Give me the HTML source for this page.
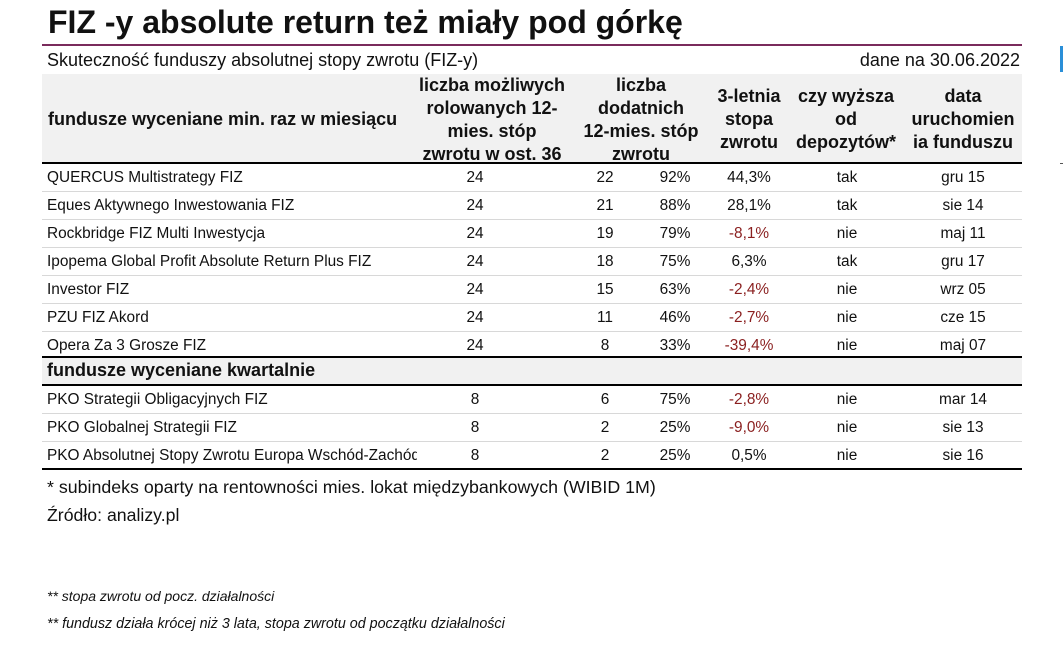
<!DOCTYPE html>
<html><head><meta charset="utf-8"><style>
body{margin:0;width:1063px;height:666px;background:#fff;font-family:"Liberation Sans",sans-serif;color:#111;position:relative;overflow:hidden}
.a{position:absolute;white-space:nowrap}
.title{left:48px;top:4px;font-size:32px;font-weight:bold}
.hr{left:42px;top:44px;width:980px;height:2px;background:#7a2b5c}
.sub{left:47px;top:50px;font-size:18px}
.dane{right:43px;top:50px;font-size:18px}
.head{left:42px;top:74px;width:980px;height:88px;background:#f1f1f1;border-bottom:2px solid #000}
.h{font-size:18px;font-weight:bold;text-align:center;line-height:23px;position:absolute;white-space:nowrap}
.row{position:absolute;left:42px;width:980px;height:27px;border-bottom:1px solid #d8d8d8;font-size:15.4px}
.row span{position:absolute;top:5px;white-space:nowrap}
.c{transform:translateX(-50%)}
.red{color:#8a1f1f}
.sec{background:#f1f1f1;border-bottom:2px solid #000;font-weight:bold;font-size:18px}
</style></head><body>
<div class="a title">FIZ -y absolute return też miały pod górkę</div>
<div class="a hr"></div>
<div class="a sub">Skuteczność funduszy absolutnej stopy zwrotu (FIZ-y)</div>
<div class="a dane">dane na 30.06.2022</div>
<div class="a head"></div>
<div class="h" style="left:48px;top:108px;text-align:left">fundusze wyceniane min. raz w miesiącu</div>
<div class="h" style="left:492px;top:74px;transform:translateX(-50%)">liczba możliwych<br>rolowanych 12-<br>mies. stóp<br>zwrotu w ost. 36</div>
<div class="h" style="left:641px;top:74px;transform:translateX(-50%)">liczba<br>dodatnich<br>12-mies. stóp<br>zwrotu</div>
<div class="h" style="left:749px;top:85px;transform:translateX(-50%)">3-letnia<br>stopa<br>zwrotu</div>
<div class="h" style="left:846px;top:85px;transform:translateX(-50%)">czy wyższa<br>od<br>depozytów*</div>
<div class="h" style="left:963px;top:85px;transform:translateX(-50%)">data<br>uruchomien<br>ia funduszu</div>

<div class="row" style="top:164px"><span style="left:5px">QUERCUS Multistrategy FIZ</span><span class="c" style="left:433px">24</span><span class="c" style="left:563px">22</span><span class="c" style="left:633px">92%</span><span class="c" style="left:707px">44,3%</span><span class="c" style="left:805px">tak</span><span class="c" style="left:921px">gru 15</span></div>
<div class="row" style="top:192px"><span style="left:5px">Eques Aktywnego Inwestowania FIZ</span><span class="c" style="left:433px">24</span><span class="c" style="left:563px">21</span><span class="c" style="left:633px">88%</span><span class="c" style="left:707px">28,1%</span><span class="c" style="left:805px">tak</span><span class="c" style="left:921px">sie 14</span></div>
<div class="row" style="top:220px"><span style="left:5px">Rockbridge FIZ Multi Inwestycja</span><span class="c" style="left:433px">24</span><span class="c" style="left:563px">19</span><span class="c" style="left:633px">79%</span><span class="c red" style="left:707px">-8,1%</span><span class="c" style="left:805px">nie</span><span class="c" style="left:921px">maj 11</span></div>
<div class="row" style="top:248px"><span style="left:5px">Ipopema Global Profit Absolute Return Plus FIZ</span><span class="c" style="left:433px">24</span><span class="c" style="left:563px">18</span><span class="c" style="left:633px">75%</span><span class="c" style="left:707px">6,3%</span><span class="c" style="left:805px">tak</span><span class="c" style="left:921px">gru 17</span></div>
<div class="row" style="top:276px"><span style="left:5px">Investor FIZ</span><span class="c" style="left:433px">24</span><span class="c" style="left:563px">15</span><span class="c" style="left:633px">63%</span><span class="c red" style="left:707px">-2,4%</span><span class="c" style="left:805px">nie</span><span class="c" style="left:921px">wrz 05</span></div>
<div class="row" style="top:304px"><span style="left:5px">PZU FIZ Akord</span><span class="c" style="left:433px">24</span><span class="c" style="left:563px">11</span><span class="c" style="left:633px">46%</span><span class="c red" style="left:707px">-2,7%</span><span class="c" style="left:805px">nie</span><span class="c" style="left:921px">cze 15</span></div>
<div class="row" style="top:332px;height:24px;border-bottom:2px solid #000"><span style="left:5px">Opera Za 3 Grosze FIZ</span><span class="c" style="left:433px">24</span><span class="c" style="left:563px">8</span><span class="c" style="left:633px">33%</span><span class="c red" style="left:707px">-39,4%</span><span class="c" style="left:805px">nie</span><span class="c" style="left:921px">maj 07</span></div>
<div class="row sec" style="top:358px;height:26px"><span style="left:5px;top:2px">fundusze wyceniane kwartalnie</span></div>
<div class="row" style="top:386px"><span style="left:5px">PKO Strategii Obligacyjnych FIZ</span><span class="c" style="left:433px">8</span><span class="c" style="left:563px">6</span><span class="c" style="left:633px">75%</span><span class="c red" style="left:707px">-2,8%</span><span class="c" style="left:805px">nie</span><span class="c" style="left:921px">mar 14</span></div>
<div class="row" style="top:414px"><span style="left:5px">PKO Globalnej Strategii FIZ</span><span class="c" style="left:433px">8</span><span class="c" style="left:563px">2</span><span class="c" style="left:633px">25%</span><span class="c red" style="left:707px">-9,0%</span><span class="c" style="left:805px">nie</span><span class="c" style="left:921px">sie 13</span></div>
<div class="row" style="top:442px;height:26px;border-bottom:2px solid #000"><span style="left:5px;width:370px;overflow:hidden">PKO Absolutnej Stopy Zwrotu Europa Wschód-Zachód</span><span class="c" style="left:433px">8</span><span class="c" style="left:563px">2</span><span class="c" style="left:633px">25%</span><span class="c" style="left:707px">0,5%</span><span class="c" style="left:805px">nie</span><span class="c" style="left:921px">sie 16</span></div>

<div class="a" style="left:47px;top:477px;font-size:17.8px">* subindeks oparty na rentowności mies. lokat międzybankowych (WIBID 1M)</div>
<div class="a" style="left:47px;top:505px;font-size:17.7px">Źródło: analizy.pl</div>
<div class="a" style="left:47px;top:588px;font-size:14px;font-style:italic">** stopa zwrotu od pocz. działalności</div>
<div class="a" style="left:47px;top:616px;font-size:14.3px;font-style:italic">** fundusz działa krócej niż 3 lata, stopa zwrotu od początku działalności</div>
<div class="a" style="left:1060px;top:46px;width:3px;height:26px;background:#2a8fd8"></div>
<div class="a" style="left:1060px;top:163px;width:3px;height:1px;background:#555"></div>
</body></html>
